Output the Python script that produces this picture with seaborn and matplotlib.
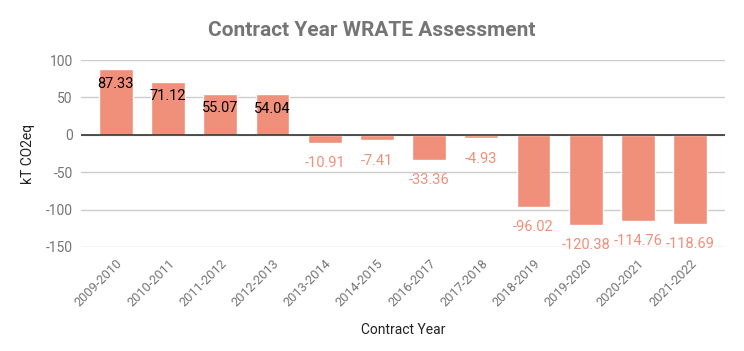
import matplotlib
matplotlib.use("Agg")
import matplotlib.pyplot as plt
import seaborn as sns
import pandas as pd

years = ["2009-2010", "2010-2011", "2011-2012", "2012-2013", "2013-2014", "2014-2015",
         "2016-2017", "2017-2018", "2018-2019", "2019-2020", "2020-2021", "2021-2022"]
values = [87.33, 71.12, 55.07, 54.04, -10.91, -7.41, -33.36, -4.93, -96.02, -120.38, -114.76, -118.69]
yticks = [-150, -100, -50, 0, 50, 100]

df = pd.DataFrame({"year": years, "value": values})

sns.set_theme(style="white")
plt.rcParams['font.family'] = ['Roboto', 'DejaVu Sans']

bar_color = "#F1907A"
gray = "#757575"

fig = plt.figure(figsize=(7.44, 3.51), dpi=100)
ax = fig.add_axes([81/744, 1-247/351, (725-81)/744, (247-60)/351])

sns.barplot(data=df, x="year", y="value", color=bar_color, width=0.65, ax=ax, saturation=1)

ax.set_ylim(-150, 100)
ax.set_xlim(-0.67, len(years)-0.33)
ax.set_yticks(yticks)
ax.set_yticklabels([str(t) for t in yticks], color=gray, fontsize=10)
ax.yaxis.grid(True, color="#cccccc", linewidth=1)
ax.set_axisbelow(True)
ax.axhline(0, color="#333333", linewidth=1.2, zorder=3)
for s in ax.spines.values():
    s.set_visible(False)
ax.tick_params(axis='y', length=0, pad=6)
ax.tick_params(axis='x', length=0, pad=7)
plt.setp(ax.get_xticklabels(), rotation=45, ha='right', rotation_mode='anchor', color=gray, fontsize=9.2)

for i, v in enumerate(values):
    if v >= 0:
        ax.text(i, v - 10, f"{v:.2f}", ha='center', va='top', color='black', fontsize=10.5)
    else:
        ax.text(i, v - 18, f"{v:.2f}", ha='center', va='top', color=bar_color, fontsize=10.5)

ax.set_xlabel("Contract Year", color="#222222", fontsize=10, labelpad=10)
ax.set_ylabel("kT CO2eq", color="#222222", fontsize=10, labelpad=8)

fig.suptitle("Contract Year WRATE Assessment", x=0.5, y=1-30/351, va='center',
             fontsize=15, fontweight='bold', color=gray)

fig.savefig("out.png", dpi=100, facecolor="white")
